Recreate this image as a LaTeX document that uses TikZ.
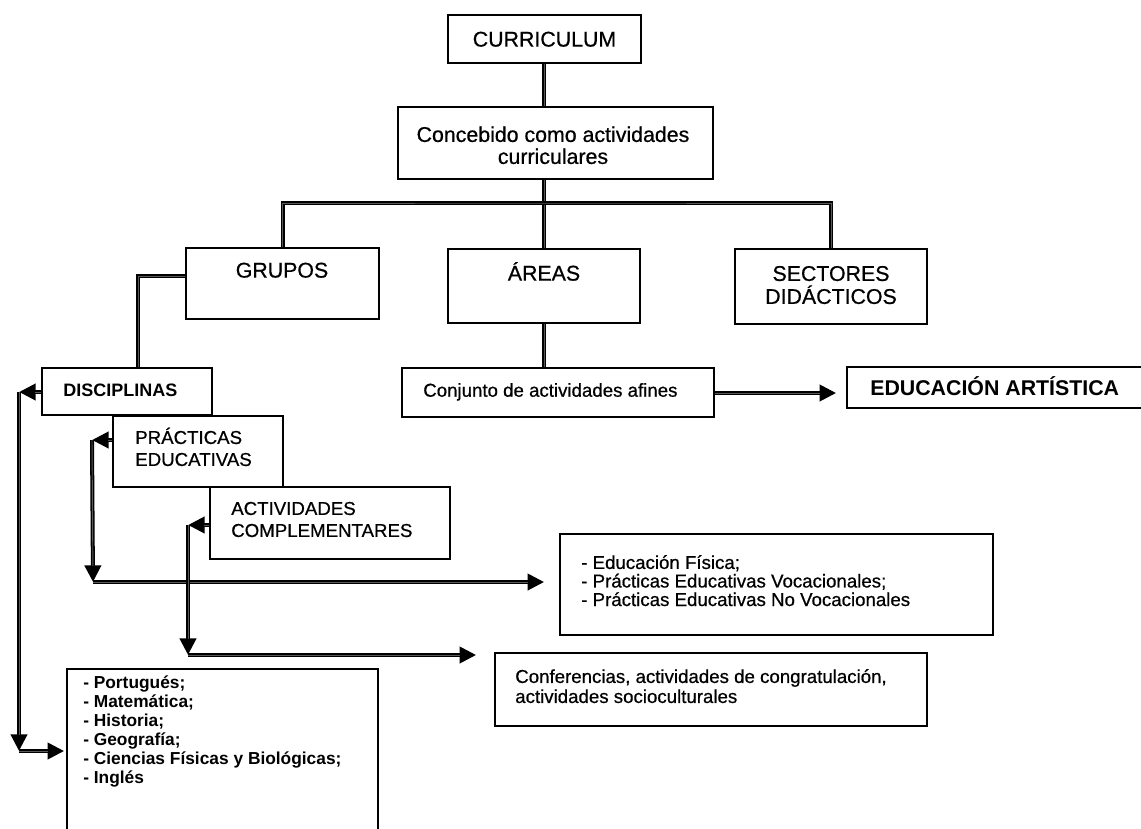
\documentclass[tikz,border=0pt]{standalone}
\usepackage{fontspec}
\setmainfont[UprightFeatures={FakeBold=0.6}]{Liberation Sans}
\usetikzlibrary{arrows.meta,fit,shadows}

\begin{document}
\lineskiplimit=-100pt\relax
\begin{tikzpicture}[x=0.75pt,y=-0.75pt,
  box/.style={draw, line width=1.2pt, fill=white, inner sep=0pt,
    drop shadow={shadow xshift=0.9pt, shadow yshift=-0.9pt, fill=black, opacity=1}},
  lbl/.style={inner sep=0pt},
  fbig/.style={font=\fontsize{16}{16.5}\selectfont},
  fsec/.style={font=\fontsize{16}{17.25}\selectfont},
  fmed/.style={font=\fontsize{14}{16.5}\selectfont},
  flist/.style={font=\fontsize{14}{13.9}\selectfont},
  fconf/.style={font=\fontsize{14}{15}\selectfont},
  fpor/.style={font=\bfseries\fontsize{13}{14.25}\selectfont},
  fdis/.style={font=\bfseries\fontsize{13.5}{14}\selectfont},
  fedu/.style={font=\bfseries\fontsize{16}{17}\selectfont},
  conn/.style={draw=black, line width=3pt, line join=miter,
    postaction={draw=black!65, line width=0.7pt, arrows=-}},
  arr/.style={draw=black, line width=3pt, shorten >=#1,
    -{Triangle[length=12.5pt,width=12pt]},
    postaction={draw=black!65, line width=0.7pt, arrows=-, shorten >=#1+12pt}},
  arr/.default=0pt
]
\useasboundingbox (0,0) rectangle (1141,828);
\fill[white] (0,0) rectangle (1141,828);
\clip (0,0) rectangle (1141,828);

% boxes
\node[box, fit={(448,15) (641,63)}] (cur) {};
\node[box, fit={(398,107) (713,179)}] (con) {};
\node[box, fit={(186,248) (379,319)}] (gru) {};
\node[box, fit={(448,249) (640,323)}] (are) {};
\node[box, fit={(735,249) (927,324)}] (sec) {};
\node[box, fit={(402,368) (714,417)}] (cnj) {};
\node[box, fit={(847,367) (1160,408)}] (edu) {};
\node[box, fit={(42,368) (212,415)}] (dis) {};
\node[box, fit={(113,416) (283,487)}] (pra) {};
\node[box, fit={(210,487) (450,559)}] (act) {};
\node[box, fit={(560,534) (993,635)}] (efi) {};
\node[box, fit={(495,653) (927,726)}] (cnf) {};
\node[box, fit={(67,669) (378,850)}] (por) {};

% labels
\node[lbl, fbig, anchor=base] (curT) at (544.5,46.6) {CURRICULUM};
\node[lbl, fbig, align=center, anchor=north] (conT) at (553,120.3)
  {\rule{0pt}{1em}Concebido como actividades\\curriculares};
\node[lbl, fbig, anchor=base] (gruT) at (282,277.6) {GRUPOS};
\node[lbl, fbig, anchor=base] (areT) at (544,280.6) {ÁREAS};
\node[lbl, fsec, align=center, anchor=north] (secT) at (831,259.3)
  {\rule{0pt}{1em}SECTORES\\DIDÁCTICOS};
\node[lbl, fmed, anchor=base west] (cnjT) at (423,396.7) {Conjunto de actividades afines};
\node[lbl, fedu, anchor=base west] (eduT) at (870,395.6) {EDUCACIÓN ARTÍSTICA};
\node[lbl, fdis, anchor=base west] (disT) at (63,396.5) {DISCIPLINAS};
\node[lbl, fmed, align=left, anchor=north west] (praT) at (135,425)
  {\rule{0pt}{1em}PRÁCTICAS\\EDUCATIVAS};
\node[lbl, fmed, align=left, anchor=north west] (actT) at (231,496)
  {\rule{0pt}{1em}ACTIVIDADES\\COMPLEMENTARES};
\node[lbl, flist, align=left, anchor=north west] (efiT) at (581,550)
  {\rule{0pt}{1em}- Educación Física;\\- Prácticas Educativas Vocacionales;\\- Prácticas Educativas No Vocacionales};
\node[lbl, fconf, align=left, anchor=north west] (cnfT) at (515,664)
  {\rule{0pt}{1em}Conferencias, actividades de congratulación,\\actividades socioculturales};
\node[lbl, fpor, align=left, anchor=north west] (porT) at (83,670.9)
  {\rule{0pt}{1em}- Portugués;\\- Matemática;\\- Historia;\\- Geografía;\\- Ciencias Físicas y Biológicas;\\- Inglés};

% junctions and corners of the connectors
\coordinate (bus) at (544,203);
\coordinate (gd) at (138,276);
\coordinate (d1) at (19,392);
\coordinate (d2) at (19,751);
\coordinate (p1) at (92,440);
\coordinate (p2) at (93,582);
\coordinate (a1) at (188,525);
\coordinate (a2) at (188,655);
\coordinate (ey) at (0,393);

% tree connectors
\draw[conn] (cur.south -| are.north) -- (con.north -| are.north);
\draw[conn] (con.south -| are.north) -- (are.north);
\draw[conn] (gru.north) |- (bus) -| (sec.north);
\draw[conn] (are.south) -- (are.south |- cnj.north);
\draw[conn] (gru.west |- gd) -- (gd) -- (gd |- dis.north);
\draw[arr=7.5pt] (cnj.east |- ey) -- (edu.west |- ey);

% DISCIPLINAS
\draw[arr] (dis.west |- d1) -- (d1);
\draw[arr] (d1) -- (d2);
\draw[arr=1.5pt] (d2) -- (por.west |- d2);

% PRACTICAS EDUCATIVAS
\draw[arr] (pra.west |- p1) -- (p1);
\draw[arr] (p1) -- (p2);
\draw[arr=11.25pt] (p2) -- (efi.west |- p2);

% ACTIVIDADES COMPLEMENTARES
\draw[arr] (act.west |- a1) -- (a1);
\draw[arr] (a1) -- (a2);
\draw[arr=13.5pt] (a2) -- (cnf.west |- a2);
\end{tikzpicture}
\end{document}
